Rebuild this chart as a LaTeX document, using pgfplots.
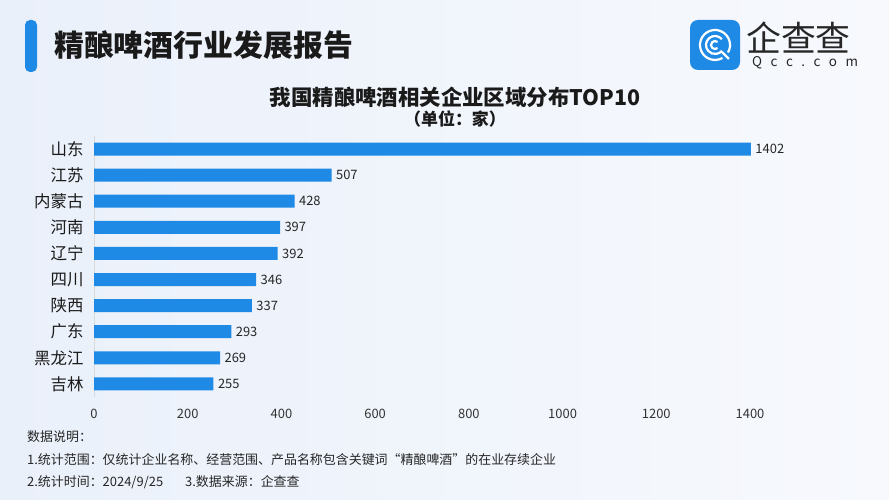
\documentclass[border=0pt]{standalone}
\usepackage{pgfplots}
\pgfplotsset{compat=1.18}
\usepackage{fontspec}
\setmainfont{Noto Sans CJK SC}
\definecolor{barblue}{HTML}{1F8AE6}
\definecolor{bgA}{HTML}{EAF0FA}
\definecolor{bgB}{HTML}{F7F9FD}
\definecolor{txt}{HTML}{1A1A1A}
\begin{document}
\begin{tikzpicture}[x=1bp,y=1bp]
\shade[left color=bgA, right color=bgB] (0,0) rectangle (889,500);
% header
\fill[barblue, rounded corners=5bp] (25,428) rectangle (37,480);
\node[anchor=west, font=\fontsize{30}{34}\selectfont\bfseries, text=txt, inner sep=0] at (54,455) {精酿啤酒行业发展报告};
% logo
\fill[barblue, rounded corners=8bp] (690,430) rectangle (740,480);
\draw[white, line width=2.2bp] (715,455) ++(-30:15) arc[start angle=-30, end angle=300, radius=15];
\draw[white, line width=2.2bp] (715,455) ++(40:9) arc[start angle=40, end angle=320, radius=9];
\draw[white, line width=2.2bp] (715,455) ++(50:4) arc[start angle=50, end angle=310, radius=4];
\draw[white, line width=2.2bp] (722,448) -- (729,441);
\node[anchor=west, font=\fontsize{35}{38}\selectfont, text=black!85, inner sep=0] at (746,462) {企查查};
\node[anchor=west, font=\fontsize{13.5}{14}\selectfont, text=black!85, inner sep=0] at (752,437) {Q\hspace{8.5bp}c\hspace{8.5bp}c\hspace{8.5bp}.\hspace{8.5bp}c\hspace{8.5bp}o\hspace{8.5bp}m};
% chart title
\node[font=\fontsize{21.5}{24}\selectfont\bfseries, text=txt] at (455,403) {我国精酿啤酒相关企业区域分布TOP10};
\node[font=\fontsize{17}{20}\selectfont\bfseries, text=txt] at (455,381) {（单位：家）};
\begin{axis}[
  at={(94bp,103bp)}, anchor=south west,
  scale only axis, width=656bp, height=261bp,
  xmin=0, xmax=1400, ymin=-0.5, ymax=9.5,
  y dir=reverse,
  xbar, bar width=13bp,
  clip=false,
  axis lines*=left,
  x axis line style={draw=none},
  y axis line style={draw=black!15},
  major tick length=0pt,
  xtick={0,200,400,600,800,1000,1200,1400},
  ytick={0,1,2,3,4,5,6,7,8,9},
  yticklabels={山东,江苏,内蒙古,河南,辽宁,四川,陕西,广东,黑龙江,吉林},
  yticklabel style={font=\fontsize{16.5}{18}\selectfont, text=txt, xshift=-7bp},
  xticklabel style={font=\fontsize{13}{15}\selectfont, text=black!80, yshift=-9bp},
  /pgf/number format/assume math mode=true,
  /pgf/number format/1000 sep={},
  nodes near coords,
  every node near coord/.append style={font=\fontsize{13}{15}\selectfont, text=black!85, xshift=1bp},
]
\addplot[fill=barblue, draw=none] coordinates {
(1402,0) (507,1) (428,2) (397,3) (392,4) (346,5) (337,6) (293,7) (269,8) (255,9)
};
\end{axis}
% footnotes
\node[anchor=west, font=\fontsize{13}{15}\selectfont, text=black!85, inner sep=0] at (27,63) {数据说明：};
\node[anchor=west, font=\fontsize{13}{15}\selectfont, text=black!85, inner sep=0] at (27,40) {1.统计范围：仅统计企业名称、经营范围、产品名称包含关键词“精酿啤酒”的在业存续企业};
\node[anchor=west, font=\fontsize{13}{15}\selectfont, text=black!85, inner sep=0] at (27,18) {2.统计时间：2024/9/25\hspace{22bp}3.数据来源：企查查};
\end{tikzpicture}
\end{document}
